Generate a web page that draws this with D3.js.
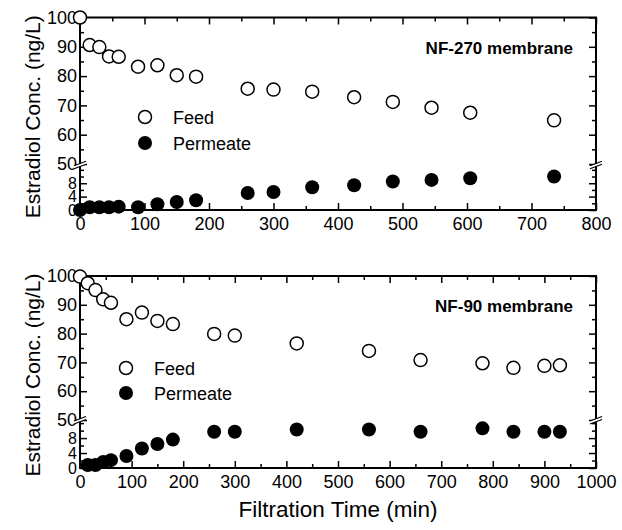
<!DOCTYPE html>
<html>
<head>
<meta charset="utf-8">
<script src="https://cdn.jsdelivr.net/npm/d3@7"></script>
<style>
  html, body { margin: 0; padding: 0; background: #fff; }
  svg text { font-family: "Liberation Sans", Arial, Helvetica, sans-serif; fill: #000; }
</style>
</head>
<body>
<svg id="chart" width="622" height="530"></svg>
<script>
// ---------- DATA ----------
const nf270FeedTime = [0, 15, 30, 45, 60, 90, 120, 150, 180, 260, 300, 360, 425, 485, 545, 605, 735];
const nf270Feed     = [100, 90.6, 89.9, 86.7, 86.6, 83.2, 83.7, 80.3, 79.8, 75.7, 75.4, 74.7, 72.8, 71.2, 69.2, 67.5, 64.9];
const nf270PermTime = [0, 15, 30, 45, 60, 90, 120, 150, 180, 260, 300, 360, 425, 485, 545, 605, 735];
const nf270Perm     = [0, 0.8, 0.8, 0.8, 1.0, 0.8, 1.7, 2.4, 2.9, 5.1, 5.4, 6.8, 7.4, 8.5, 9.0, 9.5, 10.0];

const nf90FeedTime = [0, 15, 30, 45, 60, 90, 120, 150, 180, 260, 300, 420, 560, 660, 780, 840, 900, 930];
const nf90Feed     = [99.8, 97.5, 95.1, 91.9, 90.7, 85.0, 87.3, 84.4, 83.3, 79.9, 79.3, 76.6, 74.0, 70.8, 69.7, 68.1, 68.8, 69.0];
const nf90PermTime = [15, 30, 45, 60, 90, 120, 150, 180, 260, 300, 420, 560, 660, 780, 840, 900, 930];
const nf90Perm     = [0.8, 0.8, 1.6, 2.1, 3.2, 5.2, 6.4, 7.6, 9.7, 9.7, 10.3, 10.3, 9.7, 10.6, 9.7, 9.7, 9.7];

const highTicks = [50, 60, 70, 80, 90, 100];
const highMinor = [55, 65, 75, 85, 95];
const lowTicks  = [0, 4, 8];
const lowMinor  = [2, 6, 10, 12];

const legendLabels = ["Feed", "Permeate"];
const yTitle = "Estradiol Conc. (ng/L)";
const xTitle = "Filtration Time (min)";

// ---------- LAYOUT ----------
const panels = [
  { title: "NF-270 membrane", xMax: 800, xTicks: d3.range(0, 801, 100), xMinor: d3.range(50, 800, 100),
    top: 17.5, breakHi: 164, breakLo: 167.5, bottom: 210, lowMax: 12.7,
    feedT: nf270FeedTime, feed: nf270Feed, permT: nf270PermTime, perm: nf270Perm,
    legend: { x: 145, y: 117, dy: 26 }, titleY: 54, showX: false },
  { title: "NF-90 membrane", xMax: 1000, xTicks: d3.range(0, 1001, 100), xMinor: d3.range(50, 1000, 100),
    top: 276, breakHi: 420, breakLo: 422, bottom: 468, lowMax: 12.3,
    feedT: nf90FeedTime, feed: nf90Feed, permT: nf90PermTime, perm: nf90Perm,
    legend: { x: 126, y: 368, dy: 25 }, titleY: 312, showX: true }
];
const left = 80, right = 596;
const svg = d3.select("#chart");

panels.forEach(p => {
  const g = svg.append("g");
  const x = d3.scaleLinear().domain([0, p.xMax]).range([left, right]);
  const yHi = d3.scaleLinear().domain([50, 100]).range([p.breakHi, p.top]);
  const yLo = d3.scaleLinear().domain([0, p.lowMax]).range([p.bottom, p.breakLo]);

  const styleAxis = (sel, fs) => {
    sel.select(".domain").remove();
    sel.selectAll(".tick line").attr("stroke", "#000").attr("stroke-width", 1.5);
    sel.selectAll("text").attr("font-size", fs).attr("fill", "#000");
  };

  // bottom axis
  g.append("g").attr("transform", `translate(0,${p.bottom})`)
    .call(d3.axisBottom(x).tickValues(p.xTicks).tickSize(-7).tickPadding(7).tickFormat(d3.format("d")))
    .call(s => styleAxis(s, 18));
  g.append("g").attr("transform", `translate(0,${p.bottom})`)
    .call(d3.axisBottom(x).tickValues(p.xMinor).tickSize(-4).tickFormat(""))
    .call(s => styleAxis(s, 18));
  // top axis (ticks only)
  g.append("g").attr("transform", `translate(0,${p.top})`)
    .call(d3.axisTop(x).tickValues(p.xTicks).tickSize(-7).tickFormat(""))
    .call(s => styleAxis(s, 18));
  g.append("g").attr("transform", `translate(0,${p.top})`)
    .call(d3.axisTop(x).tickValues(p.xMinor).tickSize(-4).tickFormat(""))
    .call(s => styleAxis(s, 18));

  // left axes
  g.append("g").attr("transform", `translate(${left},0)`)
    .call(d3.axisLeft(yHi).tickValues(highTicks).tickSize(-7).tickPadding(3))
    .call(s => styleAxis(s, 18));
  g.append("g").attr("transform", `translate(${left},0)`)
    .call(d3.axisLeft(yHi).tickValues(highMinor).tickSize(-4).tickFormat(""))
    .call(s => styleAxis(s, 18));
  g.append("g").attr("transform", `translate(${left},0)`)
    .call(d3.axisLeft(yLo).tickValues(lowTicks).tickSize(-7).tickPadding(3))
    .call(s => styleAxis(s, 16));
  g.append("g").attr("transform", `translate(${left},0)`)
    .call(d3.axisLeft(yLo).tickValues(lowMinor).tickSize(-4).tickFormat(""))
    .call(s => styleAxis(s, 18));
  // right axes
  g.append("g").attr("transform", `translate(${right},0)`)
    .call(d3.axisRight(yHi).tickValues(highTicks).tickSize(-7).tickFormat(""))
    .call(s => styleAxis(s, 18));
  g.append("g").attr("transform", `translate(${right},0)`)
    .call(d3.axisRight(yHi).tickValues(highMinor).tickSize(-4).tickFormat(""))
    .call(s => styleAxis(s, 18));
  g.append("g").attr("transform", `translate(${right},0)`)
    .call(d3.axisRight(yLo).tickValues(lowTicks).tickSize(-7).tickFormat(""))
    .call(s => styleAxis(s, 18));
  g.append("g").attr("transform", `translate(${right},0)`)
    .call(d3.axisRight(yLo).tickValues(lowMinor).tickSize(-4).tickFormat(""))
    .call(s => styleAxis(s, 18));

  // frame
  g.append("rect").attr("x", left).attr("y", p.top)
    .attr("width", right - left).attr("height", p.bottom - p.top)
    .attr("fill", "none").attr("stroke", "#000").attr("stroke-width", 2);

  // break marks
  const by = (p.breakHi + p.breakLo) / 2;
  [left, right].forEach(ax => {
    g.append("path")
      .attr("d", `M${ax - 6},${by + 3} L${ax + 6},${by - 1.5} L${ax + 6},${by - 4.5} L${ax - 6},${by} Z`)
      .attr("fill", "#fff").attr("stroke", "none");
    g.append("line").attr("x1", ax - 6).attr("y1", by + 3).attr("x2", ax + 6).attr("y2", by - 1.5)
      .attr("stroke", "#000").attr("stroke-width", 1.3);
    g.append("line").attr("x1", ax - 6).attr("y1", by).attr("x2", ax + 6).attr("y2", by - 4.5)
      .attr("stroke", "#000").attr("stroke-width", 1.3);
  });

  // permeate (filled)
  g.append("g").selectAll("circle").data(p.perm).join("circle")
    .attr("cx", (d, i) => x(p.permT[i])).attr("cy", d => yLo(d))
    .attr("r", 7).attr("fill", "#000");
  // feed (open)
  g.append("g").selectAll("circle").data(p.feed).join("circle")
    .attr("cx", (d, i) => x(p.feedT[i])).attr("cy", d => yHi(d))
    .attr("r", 6.5).attr("fill", "#fff").attr("stroke", "#000").attr("stroke-width", 1.5);

  // panel title
  g.append("text").attr("x", 573).attr("y", p.titleY).attr("text-anchor", "end")
    .attr("font-size", 17).attr("font-weight", "bold").text(p.title);

  // legend
  legendLabels.forEach((lab, i) => {
    const ly = p.legend.y + i * p.legend.dy;
    g.append("circle").attr("cx", p.legend.x).attr("cy", ly)
      .attr("r", i === 0 ? 6.5 : 7)
      .attr("fill", i === 0 ? "#fff" : "#000")
      .attr("stroke", i === 0 ? "#000" : "none").attr("stroke-width", 1.5);
    g.append("text").attr("x", p.legend.x + 28).attr("y", ly + 6.5)
      .attr("font-size", 18).text(lab);
  });

  // y title
  const cy = (p.top + p.bottom) / 2 + 3;
  g.append("text").attr("transform", `translate(40,${cy}) rotate(-90)`)
    .attr("text-anchor", "middle").attr("font-size", 21).text(yTitle);

  if (p.showX) {
    g.append("text").attr("x", 338).attr("y", 517).attr("text-anchor", "middle")
      .attr("font-size", 22.5).text(xTitle);
  }
});
</script>
</body>
</html>
